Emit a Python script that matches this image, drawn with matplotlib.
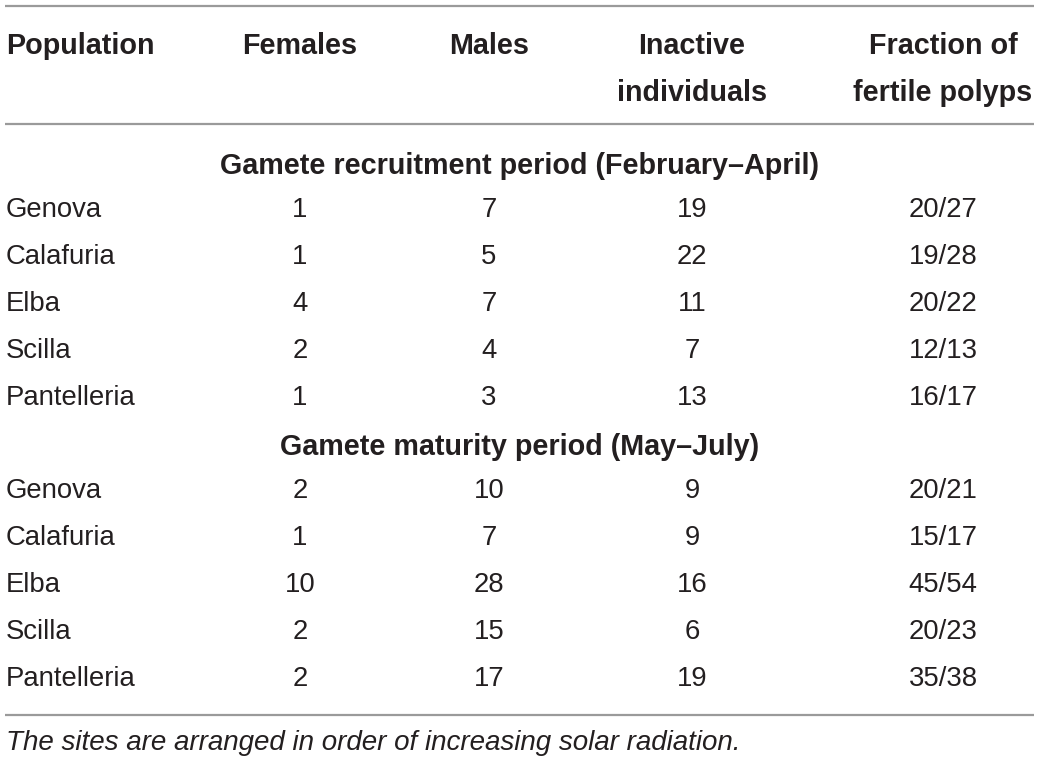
import matplotlib

matplotlib.use("Agg")
import matplotlib.pyplot as plt

plt.rcParams["font.family"] = ["Liberation Sans", "DejaVu Sans"]

# table content
headers = ["Population", "Females", "Males", "Inactive\nindividuals", "Fraction of\nfertile polyps"]
section_titles = ["Gamete recruitment period (February–April)", "Gamete maturity period (May–July)"]
sites = ["Genova", "Calafuria", "Elba", "Scilla", "Pantelleria"]
females = [[1, 1, 4, 2, 1], [2, 1, 10, 2, 2]]
males = [[7, 5, 7, 4, 3], [10, 7, 28, 15, 17]]
inactive = [[19, 22, 11, 7, 13], [9, 9, 16, 6, 19]]
fertile = [["20/27", "19/28", "20/22", "12/13", "16/17"],
           ["20/21", "15/17", "45/54", "20/23", "35/38"]]
footnote = "The sites are arranged in order of increasing solar radiation."

W, H = 1039, 764
fig = plt.figure(figsize=(W / 100, H / 100), dpi=100)
ax = fig.add_axes([0, 0, 1, 1])
ax.set_xlim(0, W)
ax.set_ylim(H, 0)
ax.axis("off")

ink = "#231f20"
rule = "#9a9a9a"
fs_bold = 20.7
fs_reg = 19.8
col_x = [6, 300, 489, 692, 943]
dy = 2  # matplotlib centres on the full line box, nudge down

# rules
for y in (6, 124, 715):
    ax.plot([5, 1034], [y, y], color=rule, lw=1.6, solid_capstyle="butt")

# header
for i, h in enumerate(headers):
    for j, t in enumerate(h.split("\n")):
        ax.text(col_x[i], 43 + 47 * j + 3, t, ha="left" if i == 0 else "center",
                va="center", fontsize=fs_bold, fontweight="bold", color=ink)

row_h = 47
y = 163
for s, title in enumerate(section_titles):
    ax.text(520, y + 3, title, ha="center", va="center", fontsize=fs_bold,
            fontweight="bold", color=ink)
    y += 45
    for r, site in enumerate(sites):
        vals = [site, females[s][r], males[s][r], inactive[s][r], fertile[s][r]]
        for i, v in enumerate(vals):
            ax.text(col_x[i], y + dy, str(v), ha="left" if i == 0 else "center",
                    va="center", fontsize=fs_reg, color=ink)
        y += row_h
    y += 1

ax.text(6, 741 + dy, footnote, ha="left", va="center", fontsize=20.0,
        style="italic", color=ink)

fig.savefig("out.png", dpi=100)
